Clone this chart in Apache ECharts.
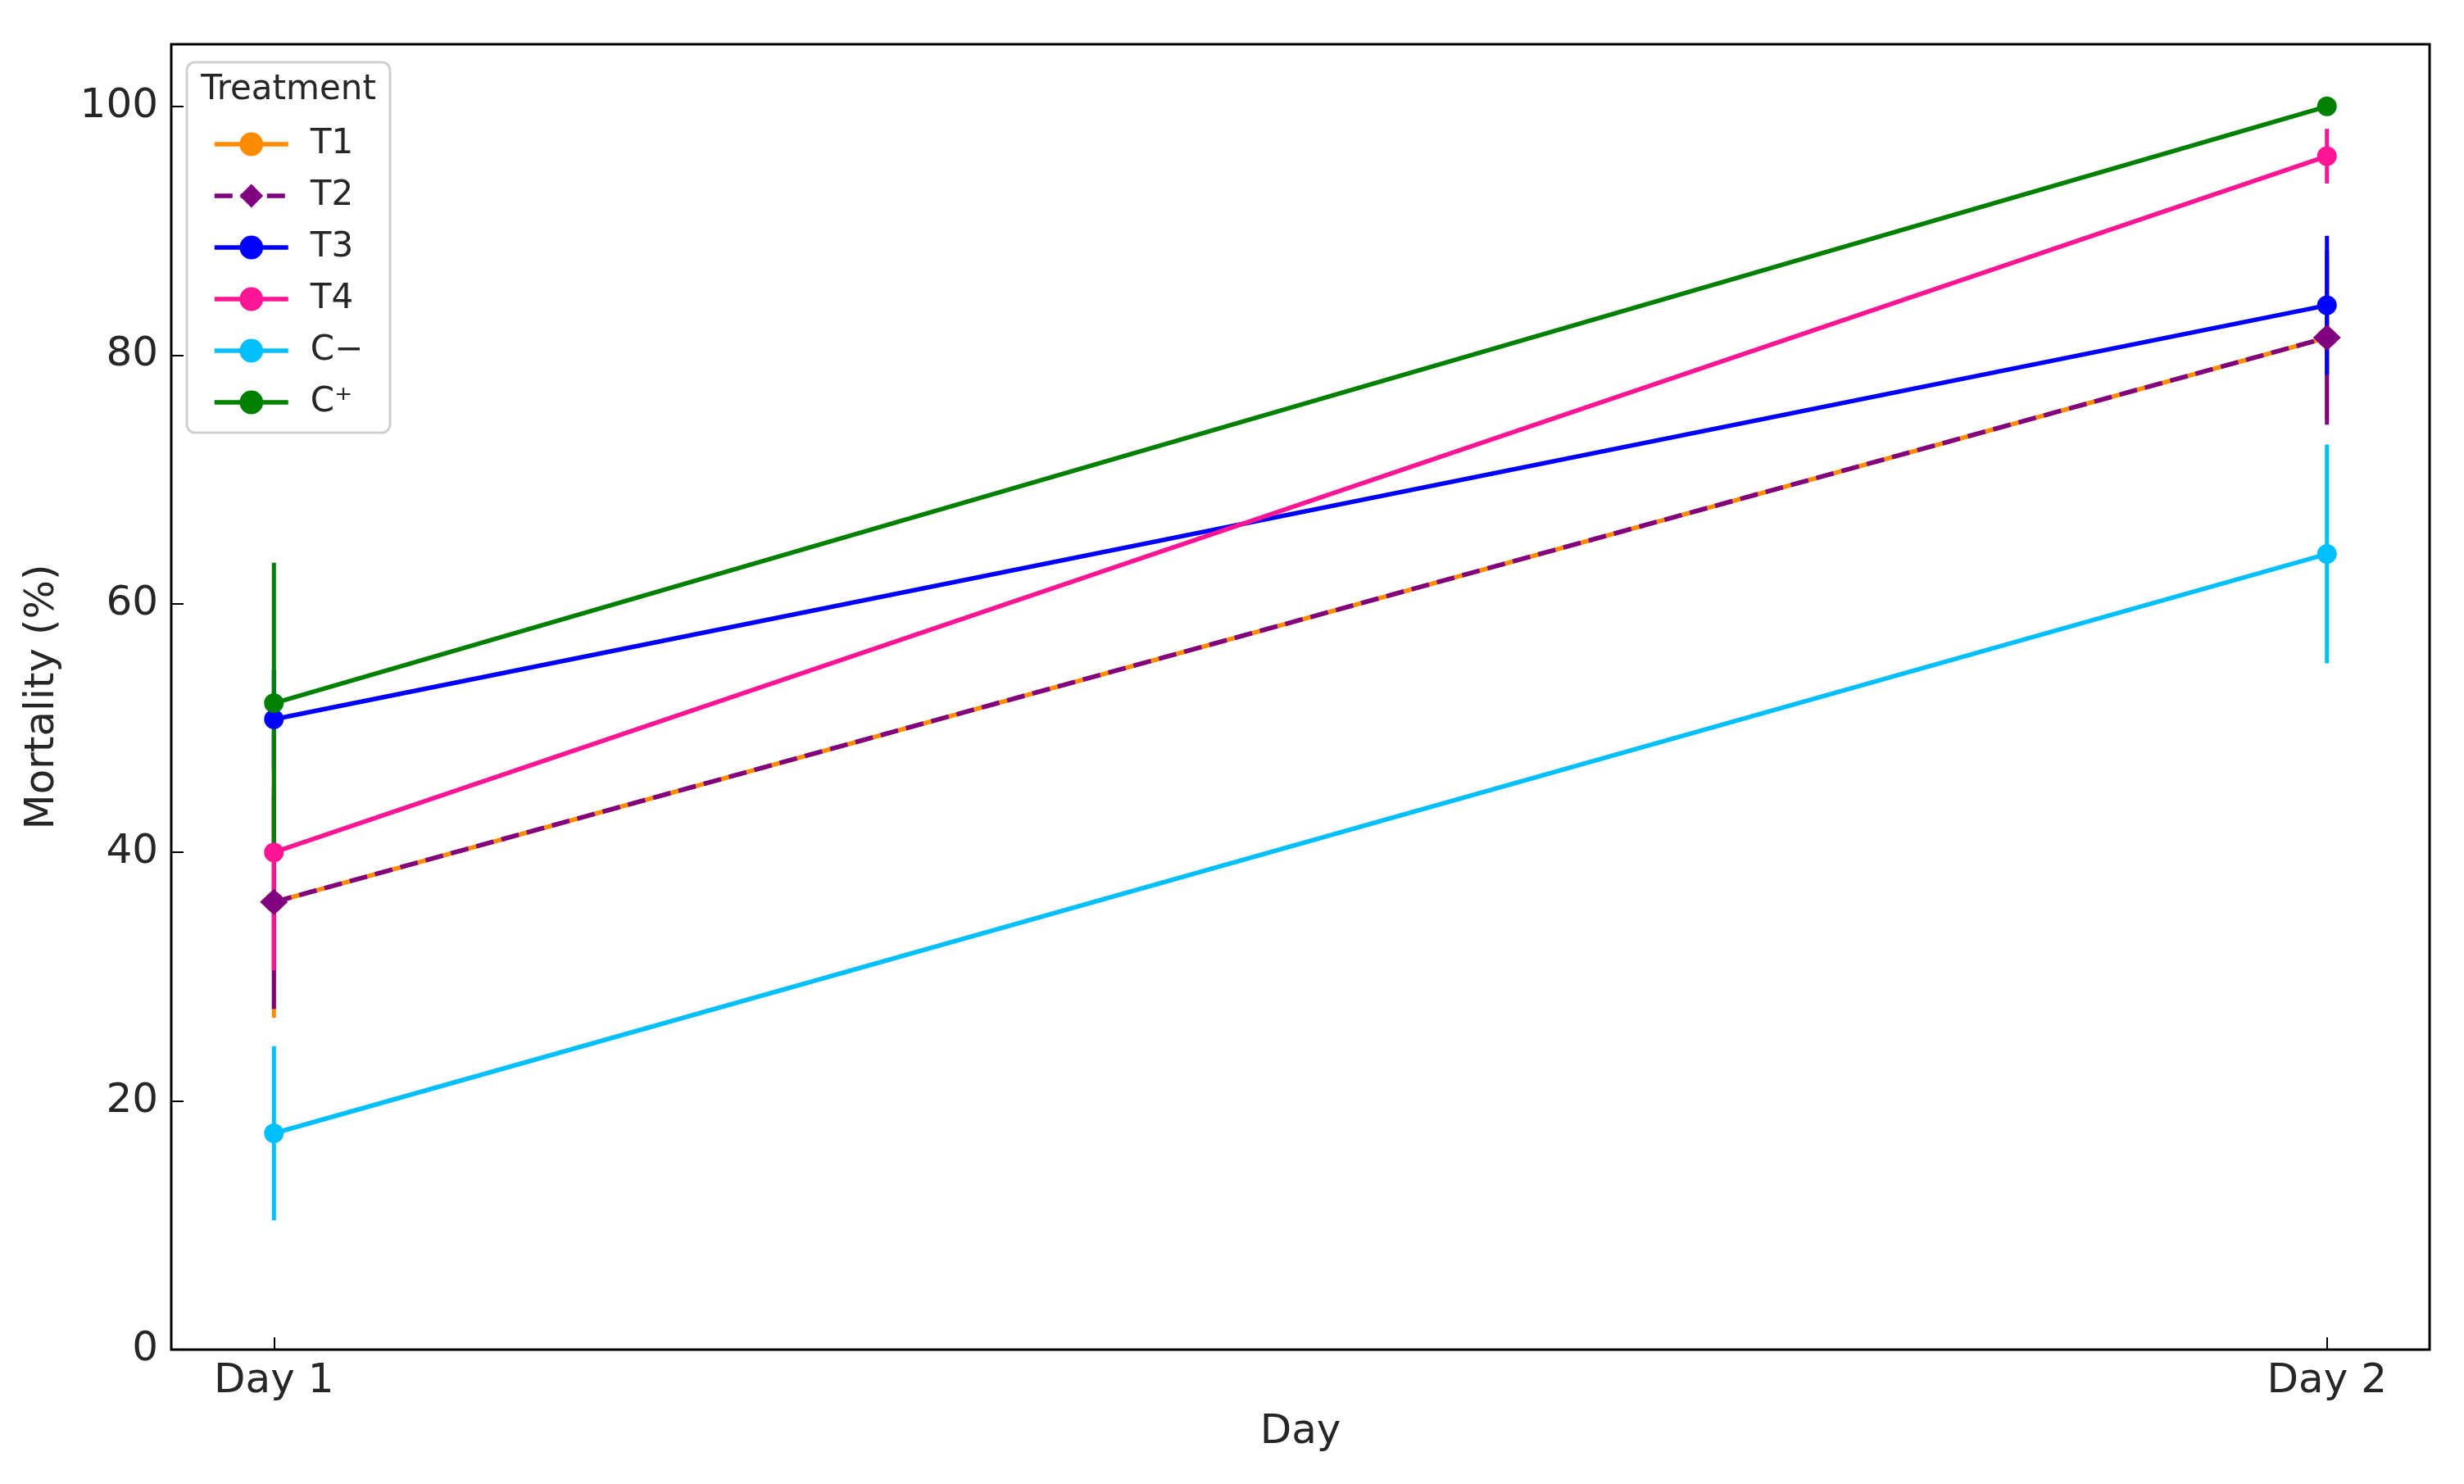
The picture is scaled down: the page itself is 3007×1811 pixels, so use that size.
<!DOCTYPE html>
<html>
<head>
<meta charset="utf-8">
<script src="https://cdn.jsdelivr.net/npm/echarts@6/dist/echarts.min.js"></script>
<style>
  html, body { margin: 0; padding: 0; background: #fff; }
  #chart { width: 3007px; height: 1811px; }
</style>
</head>
<body>
<div id="chart"></div>
<script>
// categories and tick labels
const days = ["Day 1", "Day 2"];
const dayPos = [0, 1];
const yTicks = [0, 20, 40, 60, 80, 100];

// series (mean mortality %, error half-width)
const names = ["T1", "T2", "T3", "T4", "C\u2212", "C\u207A"];
const t1 = [36, 81.4];
const t1Err = [9.3, 6.5];
const t2 = [36, 81.4];
const t2Err = [8.6, 7.0];
const t3 = [50.7, 84];
const t3Err = [4, 5.6];
const t4 = [40, 96];
const t4Err = [9.5, 2.2];
const cNeg = [17.4, 64];
const cNegErr = [7, 8.8];
const cPos = [52, 100];
const cPosErr = [11.3, 0];

const colors = ["#FF8C00", "#800080", "#0000FF", "#FF1493", "#00BFFF", "#008000"];
const means = [t1, t2, t3, t4, cNeg, cPos];
const errs = [t1Err, t2Err, t3Err, t4Err, cNegErr, cPosErr];

const font = "DejaVu Sans";
const textColor = "#262626";

const chart = echarts.init(document.getElementById("chart"));

// error bars: drawn below every line / marker, like matplotlib's errorbar
const errSeries = names.map((n, i) => ({
  name: n + " err",
  type: "custom",
  z: 2,
  silent: true,
  data: dayPos.map((x, k) => [x, means[i][k] - errs[i][k], means[i][k] + errs[i][k]]),
  renderItem: function (params, api) {
    const p1 = api.coord([api.value(0), api.value(1)]);
    const p2 = api.coord([api.value(0), api.value(2)]);
    return {
      type: "line",
      shape: { x1: p1[0], y1: p1[1], x2: p2[0], y2: p2[1] },
      style: { stroke: colors[i], lineWidth: 5 }
    };
  }
}));

const lineSeries = names.map((n, i) => ({
  name: n,
  type: "line",
  z: 3,
  data: dayPos.map((x, k) => [x, means[i][k]]),
  symbol: i === 1 ? "diamond" : "circle",
  symbolSize: i === 1 ? [34, 32] : 24,
  showAllSymbol: true,
  itemStyle: { color: colors[i] },
  lineStyle: { color: colors[i], width: 5.5, type: i === 1 ? [22, 10] : "solid" },
  emphasis: { disabled: true }
}));

chart.setOption({
  animation: false,
  backgroundColor: "#fff",
  textStyle: { fontFamily: font },
  grid: {
    left: 209, top: 54, right: 42, bottom: 164,
    show: true, borderColor: "#000", borderWidth: 3, backgroundColor: "transparent"
  },
  xAxis: {
    type: "value",
    min: -0.05,
    max: 1.05,
    name: "Day",
    nameLocation: "middle",
    nameGap: 76,
    nameTextStyle: { fontSize: 50, color: textColor, fontFamily: font },
    axisLine: { show: false, onZero: false },
    splitLine: { show: false },
    axisTick: { inside: true, length: 15, customValues: dayPos, lineStyle: { color: "#000", width: 2 } },
    axisLabel: {
      customValues: dayPos,
      fontSize: 50, color: textColor, margin: 14, fontFamily: font,
      formatter: v => days[Math.round(v)]
    }
  },
  yAxis: {
    type: "value",
    min: 0,
    max: 105,
    name: "Mortality (%)",
    nameLocation: "middle",
    nameGap: 132,
    nameTextStyle: { fontSize: 50, color: textColor, fontFamily: font },
    axisLine: { show: false, onZero: false },
    splitLine: { show: false },
    axisTick: { inside: true, length: 15, customValues: yTicks, lineStyle: { color: "#000", width: 2 } },
    axisLabel: {
      customValues: yTicks,
      fontSize: 50, color: textColor, margin: 16, fontFamily: font
    }
  },
  legend: {
    orient: "vertical",
    left: 259,
    top: 155,
    padding: 0,
    itemWidth: 90,
    itemHeight: 36,
    itemGap: 21,
    z: 20,
    selectedMode: false,
    data: names,
    lineStyle: { width: 5.5 },
    textStyle: { fontSize: 42, color: textColor, fontFamily: font, padding: [0, 0, 0, 22] }
  },
  graphic: [
    {
      type: "rect",
      z: 15,
      shape: { x: 228, y: 76, width: 248, height: 452, r: 10 },
      style: { fill: "rgba(255,255,255,0.85)", stroke: "#d0d0d0", lineWidth: 3 }
    },
    {
      type: "text",
      z: 16,
      x: 352,
      y: 110,
      style: {
        text: "Treatment", font: "42px DejaVu Sans", fill: textColor,
        textAlign: "center", textVerticalAlign: "middle"
      }
    }
  ],
  series: errSeries.concat(lineSeries)
});

window.onresize = function () {
  chart.resize();
};
</script>
</body>
</html>
